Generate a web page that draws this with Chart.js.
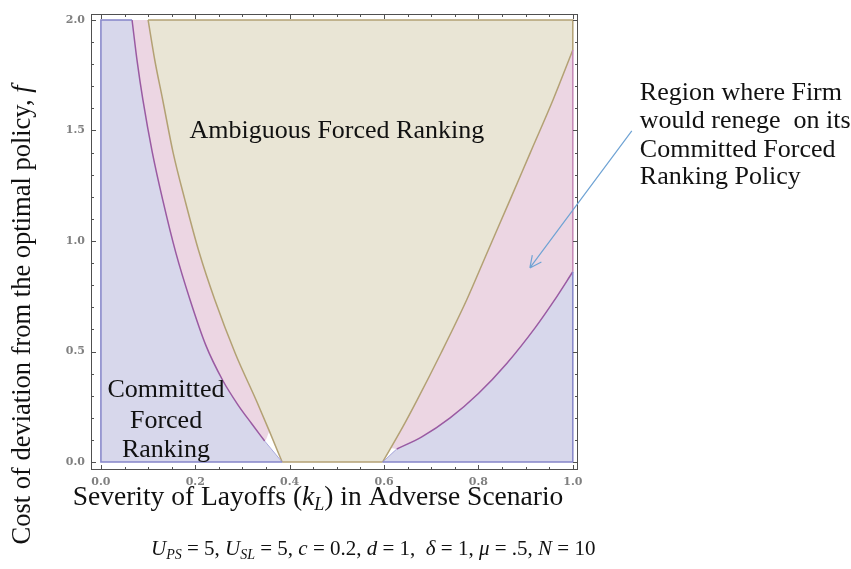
<!DOCTYPE html>
<html>
<head>
<meta charset="utf-8">
<script src="https://cdn.jsdelivr.net/npm/chart.js@4.4.0/dist/chart.umd.min.js"></script>
<style>
  html, body { margin: 0; padding: 0; background: #fff; }
  #wrap { position: relative; width: 851px; height: 569px; }
</style>
</head>
<body>
<div id="wrap"><canvas id="region-chart"></canvas></div>
<script>
/* tick labels */
const xTicks = [0.0, 0.2, 0.4, 0.6, 0.8, 1.0];
const yTicks = [0.0, 0.5, 1.0, 1.5, 2.0];

/* purple boundary: committed region / reneging region */
const purpleLeftX = [0.066, 0.077, 0.089, 0.109, 0.131, 0.159, 0.189, 0.222, 0.258, 0.29, 0.32, 0.347];
const purpleLeftY = [2.0, 1.81, 1.638, 1.40, 1.186, 0.945, 0.733, 0.53, 0.37, 0.26, 0.172, 0.095];
const purpleRightX = [0.627, 0.68, 0.74, 0.80, 0.86, 0.92, 0.96, 1.0];
const purpleRightY = [0.059, 0.114, 0.200, 0.310, 0.446, 0.607, 0.729, 0.861];

/* tan boundary: ambiguous forced ranking region */
const tanLeftX = [0.100, 0.114, 0.131, 0.153, 0.178, 0.208, 0.2415, 0.285, 0.33, 0.357, 0.384];
const tanLeftY = [2.0, 1.82, 1.638, 1.40, 1.186, 0.95, 0.733, 0.49, 0.275, 0.14, 0.0];
const tanRightX = [0.597, 0.64, 0.67, 0.72, 0.775, 0.82, 0.867, 0.91, 0.958, 1.0];
const tanRightY = [0.0, 0.16, 0.28, 0.49, 0.733, 0.955, 1.186, 1.40, 1.638, 1.864];

const fMax = 2.0;

const blueFill = '#d7d7eb', blueLine = '#8585c9';
const pinkFill = '#ecd6e3', purpleLine = '#9a5aa2', pinkLine = '#c487b5';
const tanFill = '#e9e5d5', tanLine = '#b3a174';
const serif = '"Liberation Serif", "Times New Roman", serif';

function pts(xs, ys) { return xs.map((x, i) => ({ x: x, y: ys[i] })); }
const last = a => a[a.length - 1];

const pL = pts(purpleLeftX, purpleLeftY), pR = pts(purpleRightX, purpleRightY);
const tL = pts(tanLeftX, tanLeftY), tR = pts(tanRightX, tanRightY);
const kLeft = last(tanLeftX), kRight = tanRightX[0];

function area(data, color, fill, order, smooth) {
  const d = { data: data, backgroundColor: color, borderColor: 'rgba(0,0,0,0)', fill: fill,
              order: order, showLine: true, pointRadius: 0, tension: 0 };
  if (smooth) d.cubicInterpolationMode = 'monotone';
  return d;
}
function edge(data, color, w, smooth) {
  const d = { data: data, borderColor: color, borderWidth: w || 1.5, fill: false,
              order: 1, showLine: true, pointRadius: 0, tension: 0 };
  if (smooth) d.cubicInterpolationMode = 'monotone';
  return d;
}

const datasets = [
  // committed (blue)
  area([{ x: 0, y: fMax }, { x: purpleLeftX[0] + 0.002, y: fMax }], blueFill, 'origin', 5),
  area([...pL, { x: kLeft, y: 0 }], blueFill, 'origin', 5, true),
  area([{ x: kRight, y: 0 }, ...pR], blueFill, 'origin', 5, true),
  // renege (pink)
  area([...pL, tL[9]], pinkFill, { value: fMax }, 6, true),
  area([{ x: 0.614, y: 0.063 }, ...pR], pinkFill, { value: fMax }, 6, true),
  // ambiguous (tan)
  area(tL, tanFill, { value: fMax }, 4, true),
  area([tL[9], { x: kLeft, y: 0 }, { x: kRight, y: 0 }, tR[1]], tanFill, { value: fMax }, 4),
  area(tR, tanFill, { value: fMax }, 4, true),
  // boundaries
  edge([pL[0], { x: 0, y: fMax }, { x: 0, y: 0 }, { x: kLeft, y: 0 }], blueLine),
  edge([{ x: kRight, y: 0 }, { x: 1, y: 0 }, last(pR)], blueLine),
  edge([last(pL), { x: kLeft, y: 0 }], '#a9a9dc', 1),
  edge([{ x: kRight, y: 0 }, pR[0]], '#a9a9dc', 1),
  edge([last(pR), last(tR)], pinkLine),
  edge(pL, purpleLine, 1.5, true),
  edge(pR, purpleLine, 1.5, true),
  edge(tL, tanLine, 1.5, true),
  edge(tR, tanLine, 1.5, true),
  edge([{ x: kLeft, y: 0 }, { x: kRight, y: 0 }], tanLine),
  edge([last(tR), { x: 1, y: fMax }, tL[0]], tanLine),
];

/* frame with inward ticks on all four sides (Mathematica style) */
const framePlugin = {
  id: 'frame',
  afterDatasetsDraw(chart) {
    const { ctx, chartArea: a, scales: { x, y } } = chart;
    ctx.save();
    ctx.strokeStyle = '#505050';
    ctx.lineWidth = 1;
    ctx.strokeRect(a.left + 0.5, a.top + 0.5, a.right - a.left - 1, a.bottom - a.top - 1);
    ctx.beginPath();
    for (let i = 0; i <= 20; i++) {
      const px = Math.round(x.getPixelForValue(i * 0.05)) + 0.5;
      const len = i % 4 === 0 ? 5 : 3;
      ctx.moveTo(px, a.bottom); ctx.lineTo(px, a.bottom - len);
      ctx.moveTo(px, a.top); ctx.lineTo(px, a.top + len);
    }
    for (let i = 0; i <= 20; i++) {
      const py = Math.round(y.getPixelForValue(i * 0.1)) + 0.5;
      const len = i % 5 === 0 ? 5 : 3;
      ctx.moveTo(a.left, py); ctx.lineTo(a.left + len, py);
      ctx.moveTo(a.right, py); ctx.lineTo(a.right - len, py);
    }
    ctx.stroke();
    ctx.restore();
  }
};

function runsWidth(ctx, runs) {
  let w = 0;
  runs.forEach(r => { ctx.font = r.font; w += ctx.measureText(r.t).width; });
  return w;
}
function drawRuns(ctx, runs, x, y, align) {
  let cx = align === 'center' ? x - runsWidth(ctx, runs) / 2 : x;
  runs.forEach(r => {
    ctx.font = r.font;
    ctx.fillText(r.t, cx, y + (r.dy || 0));
    cx += ctx.measureText(r.t).width;
  });
}

const textPlugin = {
  id: 'texts',
  afterDraw(chart) {
    const { ctx, scales: { x, y } } = chart;
    const big = '26px ' + serif;
    ctx.save();
    ctx.fillStyle = '#111';
    ctx.textBaseline = 'alphabetic';

    // region labels
    drawRuns(ctx, [{ t: 'Ambiguous Forced Ranking', font: big }], x.getPixelForValue(0.5), y.getPixelForValue(1.466), 'center');
    ['Committed', 'Forced', 'Ranking'].forEach((t, i) => {
      drawRuns(ctx, [{ t: t, font: big }], x.getPixelForValue(0.138), y.getPixelForValue([0.294, 0.154, 0.023][i]), 'center');
    });
    ['Region where Firm', 'would renege  on its', 'Committed Forced', 'Ranking Policy'].forEach((t, i) => {
      drawRuns(ctx, [{ t: t, font: big }], x.getPixelForValue(1.142), y.getPixelForValue([1.638, 1.511, 1.38, 1.258][i]), 'left');
    });

    // arrow
    const x0 = x.getPixelForValue(1.125), y0 = y.getPixelForValue(1.498);
    const x1 = x.getPixelForValue(0.909), y1 = y.getPixelForValue(0.878);
    const ang = Math.atan2(y1 - y0, x1 - x0);
    ctx.strokeStyle = '#6fa3d4';
    ctx.lineWidth = 1.2;
    ctx.beginPath();
    ctx.moveTo(x0, y0); ctx.lineTo(x1, y1);
    [-0.45, 0.45].forEach(d => {
      ctx.moveTo(x1, y1);
      ctx.lineTo(x1 - 13 * Math.cos(ang + d), y1 - 13 * Math.sin(ang + d));
    });
    ctx.stroke();

    // axis titles
    const xt = '27.5px ' + serif;
    drawRuns(ctx, [
      { t: 'Severity of Layoffs (', font: xt },
      { t: 'k', font: 'italic ' + xt },
      { t: 'L', font: 'italic 18px ' + serif, dy: 5 },
      { t: ') in Adverse Scenario', font: xt }
    ], 318, 505, 'center');

    ctx.save();
    ctx.translate(30, 315);
    ctx.rotate(-Math.PI / 2);
    const yt = '26.5px ' + serif;
    drawRuns(ctx, [
      { t: 'Cost of deviation from the optimal policy, ', font: yt },
      { t: 'f', font: 'italic ' + yt }
    ], 0, 0, 'center');
    ctx.restore();

    // parameter line
    const m = '21px ' + serif, mi = 'italic 21px ' + serif, s = 'italic 14px ' + serif;
    drawRuns(ctx, [
      { t: 'U', font: mi }, { t: 'PS', font: s, dy: 4 }, { t: ' = 5, ', font: m },
      { t: 'U', font: mi }, { t: 'SL', font: s, dy: 4 }, { t: ' = 5, ', font: m },
      { t: 'c', font: mi }, { t: ' = 0.2, ', font: m },
      { t: 'd', font: mi }, { t: ' = 1,  ', font: m },
      { t: 'δ', font: mi }, { t: ' = 1, ', font: m },
      { t: 'μ', font: mi }, { t: ' = .5, ', font: m },
      { t: 'N', font: mi }, { t: ' = 10', font: m }
    ], 151, 555, 'left');
    ctx.restore();
  }
};

const tickFont = { family: '"DejaVu Serif", serif', size: 11, weight: 'bold' };

new Chart(document.getElementById('region-chart'), {
  type: 'scatter',
  data: { datasets: datasets },
  options: {
    responsive: true,
    maintainAspectRatio: false,
    animation: false,
    layout: { padding: { left: 0, top: 14, right: 273, bottom: 0 } },
    plugins: { legend: { display: false }, tooltip: { enabled: false } },
    scales: {
      x: {
        type: 'linear', min: -0.021, max: 1.011,
        afterBuildTicks: s => { s.ticks = xTicks.map(v => ({ value: v })); },
        afterFit: s => { s.height = 99; },
        ticks: { callback: v => v.toFixed(1), color: '#808080', font: tickFont, padding: 6, maxRotation: 0 },
        grid: { display: false, tickLength: 0 },
        border: { display: false }
      },
      y: {
        type: 'linear', min: -0.036, max: 2.027,
        afterBuildTicks: s => { s.ticks = yTicks.map(v => ({ value: v })); },
        afterFit: s => { s.width = 91; },
        ticks: { callback: v => v.toFixed(1), color: '#808080', font: tickFont, padding: 6 },
        grid: { display: false, tickLength: 0 },
        border: { display: false }
      }
    }
  },
  plugins: [framePlugin, textPlugin]
});
</script>
</body>
</html>
